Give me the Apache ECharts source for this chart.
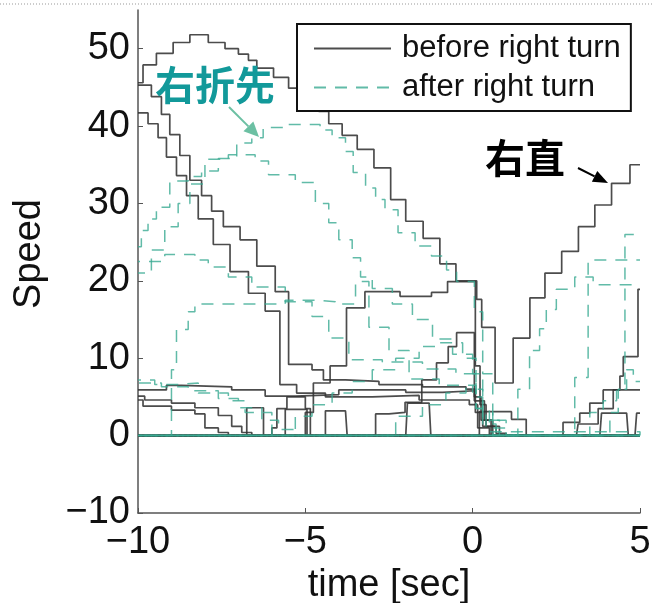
<!DOCTYPE html>
<html>
<head>
<meta charset="utf-8">
<script src="https://cdn.jsdelivr.net/npm/echarts@6/dist/echarts.min.js"></script>
<style>
  html, body { margin: 0; padding: 0; background: #fff; }
  #chart { width: 653px; height: 603px; }
</style>
</head>
<body>
<div id="chart"></div>
<script>
// Tick values
const xTicks = [-10, -5, 0, 5];
const yTicks = [-10, 0, 10, 20, 30, 40, 50];

// Vehicle speed traces before the right turn, [time, speed], held until the next sample
const straightThrough = [[-10,45.6],[-9.85,47.9],[-9.45,49.4],[-8.95,50.8],[-8.45,51.8],[-7.9,50.8],[-7.4,50.0],[-7.0,49.3],[-6.7,48.5],[-6.45,47.5],[-5.95,46.3],[-5.5,44.9],[-5.0,43.4],[-4.6,41.9],[-4.3,40.3],[-3.9,38.8],[-3.45,37.0],[-2.95,34.6],[-2.45,30.5],[-2.0,27.7],[-1.48,25.5],[-0.98,22.2],[-0.5,20.0],[0.12,17.6],[0.27,14.0],[0.67,6.8],[1.21,12.6],[1.71,17.8],[2.16,21.0],[2.66,23.8],[3.16,27.0],[3.65,29.8],[4.15,32.6],[4.70,35.0],[5.0,35.0]];
const brakingA = [[-10,45.3],[-9.6,43.8],[-9.3,41.5],[-9.05,38.9],[-8.75,36.2],[-8.45,33.0],[-8.1,31.0],[-7.8,29.0],[-7.45,27.0],[-6.95,25.3],[-6.45,21.9],[-5.9,18.6],[-5.5,9.2],[-4.8,8.5],[-4.46,7.2],[-3.8,7.0],[-2.8,6.6],[-1.5,6.3],[-0.2,6.0],[0.08,3.0],[0.3,1.2],[0.7,0.3],[1.0,0],[5,0]];
const brakingB = [[-10,41.7],[-9.7,40.3],[-9.4,38.5],[-9.15,36.0],[-8.85,33.6],[-8.55,31.0],[-8.2,28.0],[-7.75,24.7],[-7.25,21.2],[-6.7,18.4],[-6.2,16.1],[-5.76,6.6],[-5.26,5.5],[-4.4,5.0],[-3.0,5.2],[-1.6,4.6],[-0.1,4.0],[0.15,1.0],[0.5,0],[5,0]];
const creepA = [[-10,5.9],[-9.15,6.5],[-8.7,6.3],[-7.2,5.9],[-6.2,5.1],[-5.3,5.3],[-4.0,5.9],[-2.0,5.6],[-0.9,5.8],[0.05,4.5],[0.35,2.0],[0.6,0],[5,0]];
const creepB = [[-10,5.1],[-9.8,4.6],[-9.0,4.2],[-8.3,3.6],[-7.6,2.6],[-7.2,1.2],[-6.9,0.4],[-6.6,0],[5,0]];
const creepC = [[-10,4.6],[-9.85,3.8],[-9.0,3.3],[-8.3,2.8],[-8.0,1.0],[-7.6,0.4],[-7.3,0],[5,0]];
const launchA = [[-10,0],[-5.0,3.0],[-4.76,6.8],[-4.26,9.0],[-3.77,16.5],[-3.22,18.6],[-2.17,18.0],[-1.23,18.5],[-0.75,19.9],[0.08,9.0],[0.22,4.0],[0.4,1.2],[0.8,0],[5,0]];
const launchB = [[-10,0],[-3.0,0],[-2.9,2.8],[-2.5,3.0],[-2.02,4.3],[-1.52,7.2],[-1.08,9.4],[-0.73,11.5],[-0.48,13.3],[0.05,5.0],[0.25,2.0],[0.55,0],[5,0]];
const pulseA = [[-10,0],[-6.75,3.6],[-6.25,0],[-6.0,1.0],[-5.85,3.5],[-5.55,5.0],[-5.0,3.5],[-4.85,0],[5,0]];
const pulseB = [[-10,0],[-5.6,3.4],[-4.95,0],[-4.5,0],[-4.4,3.2],[-3.8,3.2],[-3.75,0],[-2.0,0],[-1.95,4.2],[-1.3,4.2],[-1.25,0],[5,0]];
const pulseC = [[-10,0],[-0.05,0],[0.2,3.1],[1.16,2.1],[1.6,0],[5,0]];
const lateA = [[-10,0],[2.26,0],[2.7,1.7],[3.2,2.9],[3.5,4.2],[3.9,5.9],[4.4,7.7],[4.5,10.2],[4.94,18.9],[5,18.9]];
const lateB = [[-10,0],[3.1,0],[3.15,1.5],[3.6,1.5],[3.75,3.5],[4.1,3.5],[4.2,5.9],[5,5.9]];
const lateC = [[-10,0],[3.8,0],[3.85,2.9],[4.6,2.9],[4.65,0],[4.85,0],[4.9,2.9],[5,2.9]];

// Vehicle speed traces after the right turn
const turnArcA = [[-10,24.4],[-9.9,26.5],[-9.7,28.0],[-9.45,29.5],[-9.05,32.9],[-8.5,33.5],[-8.1,34.2],[-7.6,35.8],[-7.05,37.8],[-6.6,38.5],[-6.26,39.8],[-5.56,40.2],[-4.56,39.5],[-4.2,38.5],[-3.8,36.7],[-3.57,34.0],[-3.2,32.0],[-2.9,30.5],[-2.62,29.2],[-2.23,26.2],[-1.72,24.5],[-1.23,23.2],[-0.78,21.4],[-0.48,19.9],[0.05,16.0],[0.3,8.0],[0.6,2.0],[1.0,0],[5,0]];
const turnArcB = [[-10,21.0],[-9.6,24.0],[-9.2,27.0],[-8.8,30.0],[-8.45,32.5],[-8.0,35.7],[-7.3,36.3],[-6.5,35.5],[-6.1,33.7],[-5.3,32.7],[-4.7,30.0],[-4.3,27.5],[-4.0,25.3],[-3.6,23.0],[-3.35,20.5],[-3.0,19.0],[-2.4,17.0],[-1.8,15.0],[-1.2,12.5],[-0.6,10.5],[0.0,8.0],[0.3,3.0],[0.6,0],[5,0]];
const turnMidA = [[-10,22.5],[-9.2,23.4],[-8.3,22.7],[-7.9,21.8],[-7.3,20.5],[-6.6,19.2],[-5.6,17.3],[-4.8,15.4],[-4.3,12.6],[-3.7,9.8],[-2.7,9.5],[-1.5,8.6],[-0.5,8.0],[0.1,3.5],[0.4,0.5],[5,0]];
const turnMidB = [[-10,0],[-9.0,8.5],[-8.85,13.7],[-8.5,16.0],[-8.3,17.0],[-6.4,17.0],[-5.6,17.5],[-4.6,17.3],[-4.1,17.0],[-3.5,19.9],[-3.1,14.0],[-2.5,11.0],[-1.9,7.3],[-1.0,6.5],[0.0,5.0],[0.3,1.5],[0.7,0],[5,0]];
const turnLowA = [[-10,6.8],[-9.3,6.3],[-8.5,5.8],[-7.6,4.8],[-7.0,3.6],[-6.3,2.0],[-5.8,0.8],[-5.3,0],[5,0]];
const turnLowB = [[-10,0],[-5.5,0],[-5.3,2.5],[-4.8,4.0],[-4.2,5.5],[-3.6,7.0],[-3.0,8.5],[-2.3,10.0],[-1.6,11.5],[-1.0,12.0],[-0.3,10.0],[0.1,6.0],[0.3,2.0],[0.8,0],[5,0]];
const turnLowC = [[-10,7.2],[-9.5,6.6],[-8.8,6.8],[-8.2,5.5],[-7.3,4.5],[-6.8,3.0],[-6.0,0],[5,0]];
const turnLowD = [[-10,0],[-2.5,0],[-2.3,2.5],[-1.5,4.0],[-0.8,5.5],[-0.2,6.5],[0.1,3.5],[0.5,1.0],[1.0,0],[5,0]];
const exitA = [[-10,0],[2.8,0],[3.05,7.5],[3.45,22.7],[5,22.7]];
const exitB = [[-10,0],[1.1,0],[1.35,6.0],[1.7,11.0],[2.0,13.8],[2.2,16.3],[2.5,18.9],[3.05,20.5],[3.6,19.5],[5,19.5]];
const exitC = [[-10,0],[3.9,0],[4.1,3.0],[4.35,6.0],[4.55,26.0],[5,26.0]];
const exitD = [[-10,0],[3.3,0],[3.5,3.0],[3.9,4.5],[4.3,6.0],[4.6,8.5],[4.8,7.0],[5,7.0]];

const beforeTraces = [straightThrough, brakingA, brakingB, creepA, creepB, creepC, launchA, launchB, pulseA, pulseB, pulseC, lateA, lateB, lateC];
const afterTraces = [turnArcA, turnArcB, turnMidA, turnMidB, turnLowA, turnLowB, turnLowC, turnLowD, exitA, exitB, exitC, exitD];

const BEFORE = 'before right turn';
const AFTER = 'after right turn';
const FONT = '"Liberation Sans", Arial, sans-serif';
const CJK = '"Noto Sans CJK SC", sans-serif';

const series = [];
beforeTraces.forEach(function (d) {
  series.push({
    name: BEFORE, type: 'line', step: 'end', data: d, symbol: 'none',
    silent: true, animation: false, z: 2,
    itemStyle: { color: '#3a3a3a' },
    lineStyle: { color: '#333', width: 1.7, opacity: 0.88 }
  });
});
afterTraces.forEach(function (d, i) {
  series.push({
    name: AFTER, type: 'line', step: 'end', data: d, symbol: 'none',
    silent: true, animation: false, z: 3,
    itemStyle: { color: '#3aaa92' },
    lineStyle: { color: '#3aaa92', width: 1.5, type: [12, 9], dashOffset: i * 5, opacity: 0.8 }
  });
});

function tickText(v) {
  return String(v).replace('-', '\u2212');
}

// Arrow helper: shaft plus filled head
function arrow(x1, y1, x2, y2, color, headLen, headHalf, width) {
  const dx = x2 - x1, dy = y2 - y1, len = Math.sqrt(dx * dx + dy * dy);
  const ux = dx / len, uy = dy / len;
  const bx = x2 - ux * headLen, by = y2 - uy * headLen;
  const px = -uy * headHalf, py = ux * headHalf;
  return [
    { type: 'line', z: 10, shape: { x1: x1, y1: y1, x2: bx, y2: by }, style: { stroke: color, lineWidth: width } },
    { type: 'polygon', z: 10, shape: { points: [[x2, y2], [bx + px, by + py], [bx - px, by - py]] }, style: { fill: color } }
  ];
}

const chart = echarts.init(document.getElementById('chart'), null, { renderer: 'canvas' });
chart.setOption({
  backgroundColor: '#fff',
  animation: false,
  grid: { left: 138, right: 13, top: 10, bottom: 90, containLabel: false, outerBoundsMode: 'none' },
  xAxis: {
    type: 'value', min: -10, max: 5, interval: 5,
    name: 'time [sec]', nameLocation: 'middle', nameGap: 52,
    nameTextStyle: { fontFamily: FONT, fontSize: 38, color: '#111' },
    axisLine: { onZero: false, lineStyle: { color: '#555', width: 1.5 } },
    axisTick: { inside: true, length: 5, lineStyle: { color: '#555' } },
    axisLabel: { fontFamily: FONT, fontSize: 38, color: '#111', margin: 11, formatter: tickText },
    splitLine: { show: false }
  },
  yAxis: {
    type: 'value', min: -10, max: 55, interval: 10,
    axisLine: { show: true, onZero: false, lineStyle: { color: '#555', width: 1.5 } },
    axisTick: { show: true, inside: true, length: 5, customValues: yTicks, lineStyle: { color: '#555' } },
    axisLabel: {
      fontFamily: FONT, fontSize: 38, color: '#111', margin: 8, customValues: yTicks,
      formatter: function (v) { return yTicks.indexOf(v) >= 0 ? tickText(v) : ''; }
    },
    splitLine: { show: false }
  },
  legend: {
    data: [BEFORE, AFTER],
    orient: 'vertical',
    left: 297, top: 24,
    backgroundColor: '#fff',
    borderColor: '#111', borderWidth: 2, borderRadius: 0,
    padding: [9, 10, 8, 16],
    itemGap: 8,
    itemWidth: 77, itemHeight: 14,
    selectedMode: false,
    itemStyle: { opacity: 0, borderWidth: 0 },
    textStyle: { fontFamily: FONT, fontSize: 31, color: '#111', lineHeight: 30, padding: [0, 0, 0, 6] }
  },
  graphic: [
    { type: 'line', z: 10, shape: { x1: 0, y1: 4, x2: 653, y2: 4 }, style: { stroke: '#999', lineWidth: 1, lineDash: [1, 2] } },
    { type: 'text', z: 10, x: 30, y: 254, rotation: Math.PI / 2,
      style: { text: 'Speed', font: '38px ' + FONT, fill: '#111', textAlign: 'center', textVerticalAlign: 'middle' } },
    { type: 'text', z: 10, x: 155, y: 85,
      style: { text: '右折先', font: 'bold 40px ' + CJK, fill: '#12999a', textAlign: 'left', textVerticalAlign: 'middle' } },
    { type: 'text', z: 10, x: 485, y: 158,
      style: { text: '右直', font: 'bold 40px ' + CJK, fill: '#000', textAlign: 'left', textVerticalAlign: 'middle' } }
  ].concat(arrow(229, 107, 259, 137, '#6cc0a3', 15, 7, 2))
   .concat(arrow(578, 168, 608, 183, '#000', 15, 6, 2)),
  series: series
});
</script>
</body>
</html>
